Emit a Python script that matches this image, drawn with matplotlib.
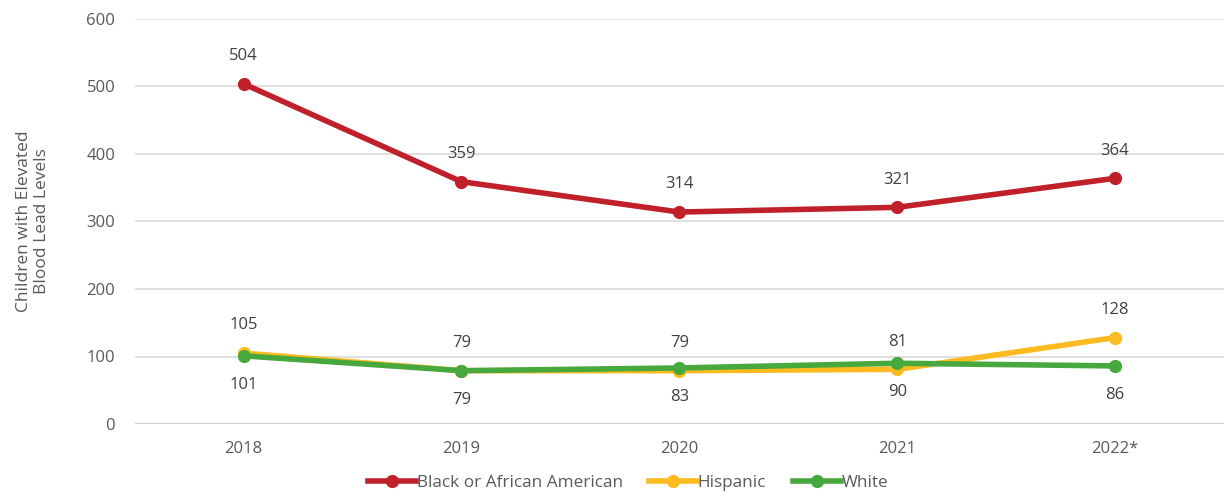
import matplotlib.pyplot as plt
import matplotlib as mpl

mpl.rcParams["font.family"] = ["Open Sans", "DejaVu Sans"]

years = ["2018", "2019", "2020", "2021", "2022*"]
black = [504, 359, 314, 321, 364]
hispanic = [105, 79, 79, 81, 128]
white = [101, 79, 83, 90, 86]

red = "#c0202a"
yellow = "#fdbb1f"
green = "#47a83d"
text_color = "#595959"

fig = plt.figure(figsize=(12.24, 5), dpi=100)
ax = fig.add_axes([0.110, 0.152, 0.890, 0.810])

x = list(range(len(years)))
ax.plot(x, black, color=red, linewidth=4, marker="o", markersize=8.5,
        label="Black or African American", zorder=4)
ax.plot(x, hispanic, color=yellow, linewidth=4, marker="o", markersize=8.5,
        label="Hispanic", zorder=4)
ax.plot(x, white, color=green, linewidth=4, marker="o", markersize=8.5,
        label="White", zorder=5)

for xi, v in zip(x, black):
    ax.annotate(str(v), (xi, v), xytext=(0, 20), textcoords="offset points",
                ha="center", va="center", fontsize=12, color="#404040")
for xi, v in zip(x, hispanic):
    ax.annotate(str(v), (xi, v), xytext=(0, 20), textcoords="offset points",
                ha="center", va="center", fontsize=12, color="#404040")
for xi, v in zip(x, white):
    ax.annotate(str(v), (xi, v), xytext=(0, -21), textcoords="offset points",
                ha="center", va="center", fontsize=12, color="#404040")

ax.set_xlim(-0.5, 4.5)
ax.set_ylim(0, 600)
ax.set_yticks(range(0, 601, 100))
ax.set_xticks(x)
ax.set_xticklabels(years)
ax.grid(axis="y", color="#dcd6d6", linewidth=1.1)
ax.set_axisbelow(True)
for s in ax.spines.values():
    s.set_visible(False)
ax.axhline(0, color="#c8c8c8", linewidth=1.1, zorder=1)
ax.tick_params(length=0, labelsize=12, labelcolor=text_color)
ax.tick_params(axis="x", pad=12)
ax.tick_params(axis="y", pad=14)

ax.set_ylabel("Children with Elevated\nBlood Lead Levels", fontsize=12.5,
              color=text_color, labelpad=26, linespacing=1.15)

fig.legend(loc="lower center", bbox_to_anchor=(0.513, -0.012), ncol=3,
           frameon=False, fontsize=12.3, handlelength=2.8, handletextpad=0.05,
           columnspacing=1.55, labelcolor=text_color)

fig.savefig("out.png", dpi=100)
